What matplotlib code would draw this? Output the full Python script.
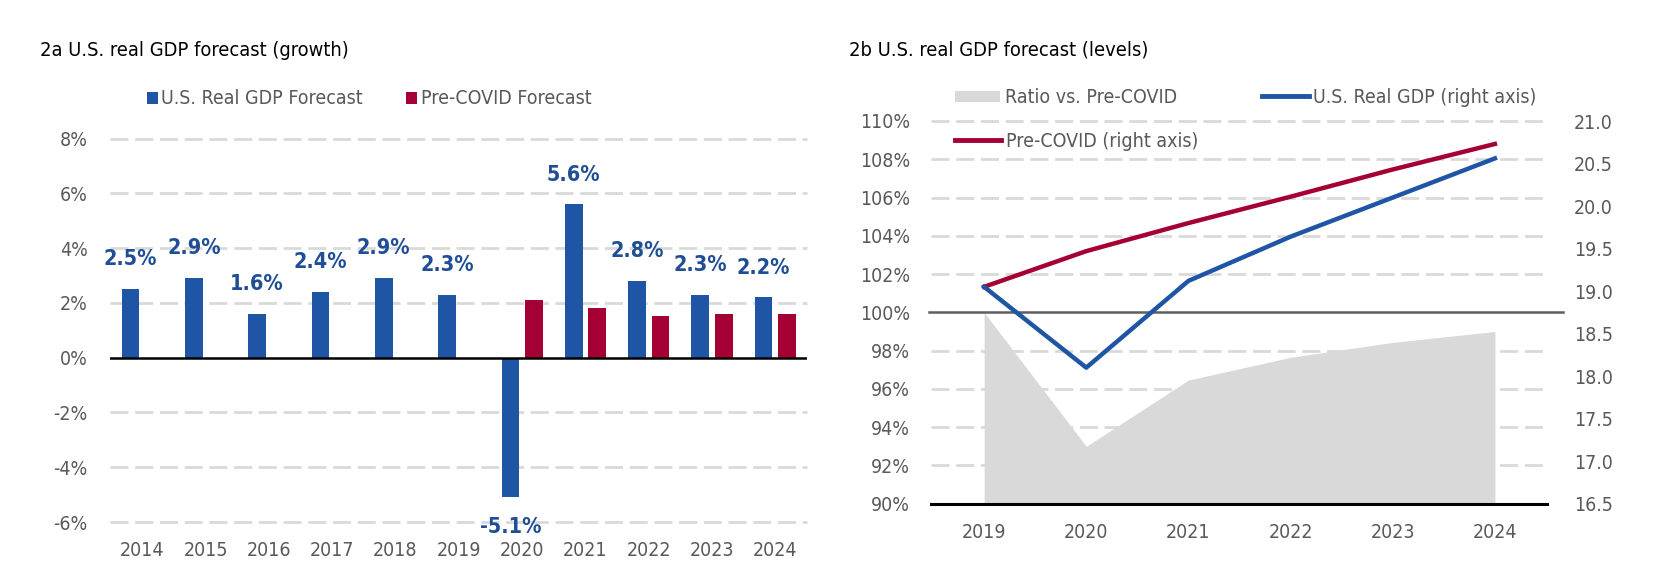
import numpy as np
import matplotlib
matplotlib.use("Agg")
import matplotlib.pyplot as plt
from matplotlib import font_manager as fm
from matplotlib.lines import Line2D
from matplotlib.patches import Patch

# ---------------- data ----------------
years_a = ["2014", "2015", "2016", "2017", "2018", "2019", "2020", "2021", "2022", "2023", "2024"]
gdp_forecast = [2.5, 2.9, 1.6, 2.4, 2.9, 2.3, -5.1, 5.6, 2.8, 2.3, 2.2]
gdp_labels = ["2.5%", "2.9%", "1.6%", "2.4%", "2.9%", "2.3%", "-5.1%", "5.6%", "2.8%", "2.3%", "2.2%"]
precovid_forecast = [None, None, None, None, None, None, 2.12, 1.80, 1.54, 1.61, 1.61]

years_b = ["2019", "2020", "2021", "2022", "2023", "2024"]
ratio_vs_precovid = [100.0, 93.0, 96.46, 97.65, 98.43, 99.0]
us_real_gdp = [19.05, 18.10, 19.12, 19.64, 20.10, 20.56]
precovid_level = [19.05, 19.47, 19.80, 20.11, 20.43, 20.73]

title_a = "2a U.S. real GDP forecast (growth)"
title_b = "2b U.S. real GDP forecast (levels)"

# ---------------- fonts ----------------
names = {f.name for f in fm.fontManager.ttflist}
if "Liberation Sans Narrow" in names:
    FONT = "Liberation Sans Narrow"
    FS = 17.5
    STRETCH = "normal"
else:
    FONT = "DejaVu Sans"
    FS = 14
    STRETCH = "condensed"
plt.rcParams["font.family"] = [FONT, "DejaVu Sans"]
plt.rcParams["font.stretch"] = STRETCH

BLUE = "#1F55A5"
RED = "#A50034"
LABEL_BLUE = "#1F4E96"
GRID = "#D9D9D9"
TXT = "#595959"
AREA = "#D9D9D9"
DASH = (0, (6.5, 2.4))

W, H = 1658, 577
fig = plt.figure(figsize=(W / 100, H / 100), dpi=100)

# ---------------- left chart ----------------
axA = fig.add_axes([110 / W, 1 - 522 / H, (807 - 110) / W, (522 - 138.7) / H])
xa = np.arange(len(years_a))
bw = 0.28
off = 0.185
axA.bar(xa - off, gdp_forecast, width=bw, color=BLUE, zorder=3)
xr = [x + off for x, v in zip(xa, precovid_forecast) if v is not None]
vr = [v for v in precovid_forecast if v is not None]
axA.bar(xr, vr, width=bw, color=RED, zorder=3)
for x, v, lab in zip(xa, gdp_forecast, gdp_labels):
    dy = 21.5 if v >= 0 else -21.5
    axA.annotate(lab, (x - off, v), xytext=(0, dy), textcoords="offset points",
                 ha="center", va="center", fontsize=FS + 1.5, fontweight="bold",
                 color=LABEL_BLUE, annotation_clip=False, zorder=5)
axA.set_xlim(-0.51, 10.5)
axA.set_ylim(-6, 8)
yt = np.arange(-6, 8.1, 2)
for y in yt:
    if y != 0:
        axA.axhline(y, color=GRID, lw=2, linestyle=DASH, zorder=1, clip_on=False)
axA.axhline(0, color="black", lw=1.8, zorder=4)
axA.set_yticks(yt)
axA.set_yticklabels([f"{int(y)}%" for y in yt])
axA.set_xticks(xa)
axA.set_xticklabels(years_a)
axA.tick_params(axis="both", length=0, labelsize=FS, labelcolor=TXT)
axA.tick_params(axis="y", pad=16)
axA.tick_params(axis="x", pad=13.5)
for s in axA.spines.values():
    s.set_visible(False)

# ---------------- right chart ----------------
axB = fig.add_axes([931 / W, 1 - 503.7 / H, (1547 - 931) / W, (503.7 - 121) / H])
xb = np.arange(len(years_b))
axB.set_xlim(-0.52, 5.51)
axB.set_ylim(90, 110)
ytb = np.arange(90, 110.1, 2)
for y in ytb:
    if y not in (90, 100):
        axB.axhline(y, color=GRID, lw=2, linestyle=DASH, zorder=1, clip_on=False)
axB.fill_between(xb, 90, ratio_vs_precovid, color=AREA, lw=0, zorder=2)
axB.plot([-0.004, 1.026], [100, 100], transform=axB.get_yaxis_transform(),
         color="#5F5F5F", lw=1.8, zorder=3, clip_on=False)
axB.axhline(90, color="black", lw=2.2, zorder=3, clip_on=False)
axB.set_yticks(ytb)
axB.set_yticklabels([f"{int(y)}%" for y in ytb])
axB.set_xticks(xb)
axB.set_xticklabels(years_b)
axB.tick_params(axis="both", length=0, labelsize=FS, labelcolor=TXT)
axB.tick_params(axis="y", pad=15)
axB.tick_params(axis="x", pad=14)
for s in axB.spines.values():
    s.set_visible(False)

axC = axB.twinx()
axC.set_ylim(16.5, 21.0)
rt = np.arange(16.5, 21.01, 0.5)
axC.set_yticks(rt)
axC.set_yticklabels([f"{v:.1f}" for v in rt])
axC.plot(xb, precovid_level, color=RED, lw=3.2, zorder=5)
axC.plot(xb, us_real_gdp, color=BLUE, lw=3.2, zorder=6)
axC.tick_params(axis="y", length=0, labelsize=FS, labelcolor=TXT, pad=19.5)
for s in axC.spines.values():
    s.set_visible(False)

# ---------------- titles ----------------
fig.text(40 / W, 1 - 50 / H, title_a, fontsize=FS + 0.4, color="black", va="center", ha="left")
fig.text(849 / W, 1 - 50 / H, title_b, fontsize=FS + 0.4, color="black", va="center", ha="left")

# ---------------- legends ----------------
def put_legend(handle, label, x, y, hl, hh, tp):
    fig.legend([handle], [label], loc="center left",
               bbox_to_anchor=(x / W, 1 - y / H), bbox_transform=fig.transFigure,
               frameon=False, borderpad=0, borderaxespad=0,
               handlelength=hl, handleheight=hh, handletextpad=tp,
               fontsize=FS, labelcolor=TXT)

put_legend(Patch(facecolor=BLUE, edgecolor="none"), "U.S. Real GDP Forecast", 146.7, 99, 0.56, 0.58, 0.2)
put_legend(Patch(facecolor=RED, edgecolor="none"), "Pre-COVID Forecast", 406, 99, 0.56, 0.58, 0.2)
put_legend(Patch(facecolor=AREA, edgecolor="none"), "Ratio vs. Pre-COVID", 955, 97.7, 2.3, 0.54, 0.29)
put_legend(Line2D([], [], color=BLUE, lw=3.5), "U.S. Real GDP (right axis)", 1262, 97.5, 2.4, 0.7, 0.2)
put_legend(Line2D([], [], color=RED, lw=3.5), "Pre-COVID (right axis)", 955, 141.7, 2.35, 0.7, 0.26)

fig.savefig("out.png", dpi=100)
